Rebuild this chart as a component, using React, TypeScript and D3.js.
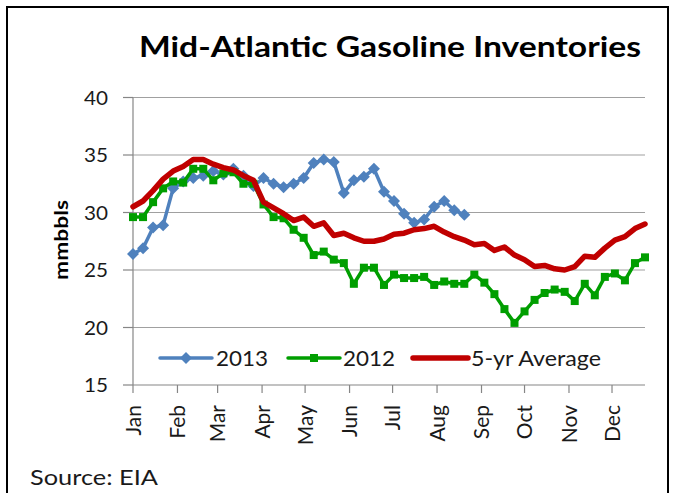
import React from "react";
import * as d3 from "d3";

const weeks = [
  "01-01","01-08","01-15","01-22","01-29",
  "02-05","02-12","02-19","02-26",
  "03-05","03-12","03-19","03-26",
  "04-02","04-09","04-16","04-23","04-30",
  "05-07","05-14","05-21","05-28",
  "06-04","06-11","06-18","06-25",
  "07-02","07-09","07-16","07-23","07-30",
  "08-06","08-13","08-20","08-27",
  "09-03","09-10","09-17","09-24",
  "10-01","10-08","10-15","10-22","10-29",
  "11-05","11-12","11-19","11-26",
  "12-03","12-10","12-17","12-24",
];

const values2013 = [
  26.4, 26.9, 28.7, 28.9, 32.1, 32.7, 33.0, 33.2, 33.6, 33.3, 33.8, 33.2,
  32.3, 33.0, 32.5, 32.2, 32.5, 33.0, 34.3, 34.6, 34.4, 31.7, 32.8, 33.1,
  33.8, 31.8, 31.0, 29.9, 29.1, 29.4, 30.5, 31.0, 30.2, 29.8,
];

const values2012 = [
  29.6, 29.6, 30.9, 32.1, 32.7, 32.6, 33.8, 33.8, 32.8, 33.4, 33.5, 32.5,
  32.5, 30.7, 29.6, 29.5, 28.5, 27.8, 26.3, 26.6, 25.9, 25.6, 23.8, 25.2,
  25.2, 23.7, 24.6, 24.3, 24.3, 24.4, 23.7, 24.0, 23.8, 23.8, 24.6, 23.9,
  22.9, 21.6, 20.4, 21.4, 22.4, 23.0, 23.3, 23.1, 22.3, 23.8, 22.8, 24.4,
  24.7, 24.1, 25.6, 26.1,
];

const valuesAvg = [
  30.5, 31.0, 31.9, 32.9, 33.6, 34.0, 34.6, 34.6, 34.2, 33.9, 33.7, 33.2,
  32.8, 30.9, 30.4, 29.9, 29.3, 29.6, 28.8, 29.1, 28.0, 28.2, 27.8, 27.5,
  27.5, 27.7, 28.1, 28.2, 28.5, 28.6, 28.8, 28.3, 27.9, 27.6, 27.2, 27.3,
  26.7, 27.0, 26.3, 25.9, 25.3, 25.4, 25.1, 25.0, 25.3, 26.2, 26.1, 26.9,
  27.6, 27.9, 28.6, 29.0,
];

const monthLabels = ["Jan","Feb","Mar","Apr","May","Jun","Jul","Aug","Sep","Oct","Nov","Dec"];
const yTicks = [15, 20, 25, 30, 35, 40];
const seriesNames = ["2013", "2012", "5-yr Average"];
const titleText = "Mid-Atlantic Gasoline Inventories";
const yAxisLabel = "mmbbls";
const sourceText = "Source: EIA";
const YEAR = 2013;

const BLUE = "#4F81BD";
const GREEN = "#009E00";
const RED = "#C00000";
const FONT = "Lato, 'Open Sans', sans-serif";

function toDate(s: string) {
  const [m, d] = s.split("-").map(Number);
  return new Date(YEAR, m - 1, d);
}

export default function App() {
  const W = 673;
  const H = 493;
  const dates = weeks.map(toDate);
  const x = d3
    .scaleTime()
    .domain([dates[0], dates[dates.length - 1]])
    .range([133, 645]);
  const y = d3.scaleLinear().domain([15, 40]).range([385, 97.5]);

  const line = d3
    .line<[Date, number]>()
    .x((d) => x(d[0]))
    .y((d) => y(d[1]));

  const s2013: [Date, number][] = values2013.map((v, i) => [dates[i], v]);
  const s2012: [Date, number][] = values2012.map((v, i) => [dates[i], v]);
  const sAvg: [Date, number][] = valuesAvg.map((v, i) => [dates[i], v]);

  const monthDates = monthLabels.map((_, i) => new Date(YEAR, i, 1));
  const x0 = x.range()[0];
  const x1 = x.range()[1];

  const diamond = (cx: number, cy: number, r: number) =>
    `M${cx},${cy - r}L${cx + r},${cy}L${cx},${cy + r}L${cx - r},${cy}Z`;

  const legendY = 358;
  const legendItems = [
    { name: seriesNames[0], color: BLUE, x1: 160, x2: 212, tx: 216, tw: 52, kind: "diamond", w: 3.5 },
    { name: seriesNames[1], color: GREEN, x1: 288, x2: 340, tx: 343, tw: 52, kind: "square", w: 3.5 },
    { name: seriesNames[2], color: RED, x1: 413, x2: 468, tx: 471, tw: 130, kind: "none", w: 5.5 },
  ];

  return (
    <div style={{ position: "absolute", left: 0, top: 0 }}>
      <svg width={W} height={H} style={{ display: "block", background: "#fff" }}>
        <rect x={0} y={0} width={W} height={H} fill="#fff" />
        <rect x={7} y={7} width={661} height={500} fill="#fff" stroke="#000" strokeWidth={2} />

        <text
          x={139}
          y={57}
          fontFamily={FONT}
          fontWeight="bold"
          fontSize={28}
          fill="#000"
          textLength={502}
          lengthAdjust="spacingAndGlyphs"
        >
          {titleText}
        </text>

        {yTicks.map((t) => (
          <g key={t}>
            {t !== 15 && (
              <line x1={x0} x2={x1} y1={y(t)} y2={y(t)} stroke="#a0a0a0" strokeWidth={1.2} />
            )}
            <line x1={123} x2={x0} y1={y(t)} y2={y(t)} stroke="#868686" strokeWidth={1.2} />
            <text
              x={108}
              y={y(t)}
              dy="0.36em"
              textAnchor="end"
              fontFamily={FONT}
              fontSize={20}
              fill="#1a1a1a"
              textLength={24}
              lengthAdjust="spacingAndGlyphs"
            >
              {t}
            </text>
          </g>
        ))}

        <line x1={x0} x2={x0} y1={y(40)} y2={y(15)} stroke="#868686" strokeWidth={1.2} />
        <line x1={x0} x2={x1} y1={y(15)} y2={y(15)} stroke="#868686" strokeWidth={1.2} />
        {monthDates.map((d, i) => (
          <g key={i}>
            <line x1={x(d)} x2={x(d)} y1={y(15)} y2={y(15) + 8} stroke="#868686" strokeWidth={1.2} />
            <text
              transform={`translate(${x(d)},405) rotate(-90)`}
              dy="0.36em"
              textAnchor="end"
              fontFamily={FONT}
              fontSize={21}
              fill="#1a1a1a"
            >
              {monthLabels[i]}
            </text>
          </g>
        ))}

        <text
          transform="translate(68,240) rotate(-90)"
          textAnchor="middle"
          fontFamily={FONT}
          fontWeight="bold"
          fontSize={19}
          fill="#000"
          textLength={80}
          lengthAdjust="spacingAndGlyphs"
        >
          {yAxisLabel}
        </text>

        <path d={line(s2013) || ""} fill="none" stroke={BLUE} strokeWidth={3.5} strokeLinejoin="round" />
        {s2013.map((d, i) => (
          <path key={i} d={diamond(x(d[0]), y(d[1]), 6)} fill={BLUE} />
        ))}

        <path d={line(s2012) || ""} fill="none" stroke={GREEN} strokeWidth={3.5} strokeLinejoin="round" />
        {s2012.map((d, i) => (
          <rect key={i} x={x(d[0]) - 4} y={y(d[1]) - 4} width={8} height={8} fill={GREEN} />
        ))}

        <path d={line(sAvg) || ""} fill="none" stroke={RED} strokeWidth={5.5} strokeLinejoin="round" strokeLinecap="round" />

        {legendItems.map((it) => (
          <g key={it.name}>
            <line
              x1={it.x1}
              x2={it.x2}
              y1={legendY}
              y2={legendY}
              stroke={it.color}
              strokeWidth={it.w}
              strokeLinecap="round"
            />
            {it.kind === "diamond" && (
              <path d={diamond((it.x1 + it.x2) / 2, legendY, 6)} fill={it.color} />
            )}
            {it.kind === "square" && (
              <rect
                x={(it.x1 + it.x2) / 2 - 4}
                y={legendY - 4}
                width={8}
                height={8}
                fill={it.color}
              />
            )}
            <text
              x={it.tx}
              y={legendY}
              dy="0.36em"
              fontFamily={FONT}
              fontSize={21}
              fill="#1a1a1a"
              textLength={it.tw}
              lengthAdjust="spacingAndGlyphs"
            >
              {it.name}
            </text>
          </g>
        ))}

        <text
          x={30}
          y={485}
          fontFamily={FONT}
          fontSize={22}
          fill="#1a1a1a"
          textLength={128}
          lengthAdjust="spacingAndGlyphs"
        >
          {sourceText}
        </text>
      </svg>
    </div>
  );
}
